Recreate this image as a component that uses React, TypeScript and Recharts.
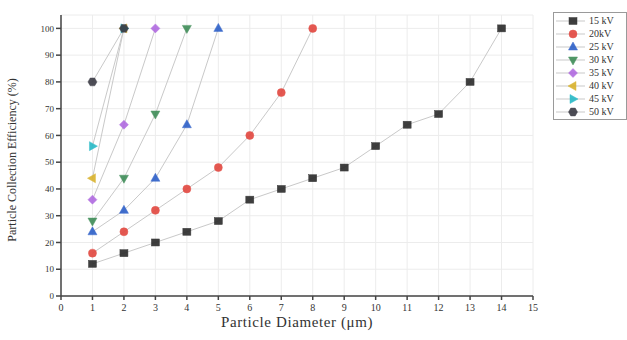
import { LineChart, Line, XAxis, YAxis, CartesianGrid, Label } from 'recharts';

const diameters = [1, 2, 3, 4, 5, 6, 7, 8, 9, 10, 11, 12, 13, 14];
const xTicks = [0, 1, 2, 3, 4, 5, 6, 7, 8, 9, 10, 11, 12, 13, 14, 15];
const yTicks = [0, 10, 20, 30, 40, 50, 60, 70, 80, 90, 100];

const eff15 = [12, 16, 20, 24, 28, 36, 40, 44, 48, 56, 64, 68, 80, 100];
const eff20 = [16, 24, 32, 40, 48, 60, 76, 100];
const eff25 = [24, 32, 44, 64, 100];
const eff30 = [28, 44, 68, 100];
const eff35 = [36, 64, 100];
const eff40 = [44, 100];
const eff45 = [56, 100];
const eff50 = [80, 100];

const seriesNames = ['15 kV', '20kV', '25 kV', '30 kV', '35 kV', '40 kV', '45 kV', '50 kV'];
const seriesValues = [eff15, eff20, eff25, eff30, eff35, eff40, eff45, eff50];
const seriesColors = ['#2a2a2a', '#e2473f', '#2c5fc8', '#3e8c57', '#b06ae0', '#d9b22c', '#26b9c6', '#3a3a44'];
const seriesShapes = ['square', 'circle', 'up', 'down', 'diamond', 'left', 'right', 'hexagon'];

const FONT = '"Liberation Serif", "Times New Roman", serif';
const LINE_COLOR = '#c9c9c9';

const series = seriesNames.map((name, i) => ({
  name,
  color: seriesColors[i],
  shape: seriesShapes[i],
  data: seriesValues[i].map((v, j) => ({ x: diameters[j], y: v })),
}));

function Marker({ cx, cy, shape, color }: { cx: number; cy: number; shape: string; color: string }) {
  const r = 4;
  let el;
  if (shape === 'square') {
    el = <rect x={cx - r} y={cy - r + 0.5} width={2 * r} height={2 * r - 1} />;
  } else if (shape === 'circle') {
    el = <circle cx={cx} cy={cy} r={r} />;
  } else if (shape === 'up') {
    el = <polygon points={`${cx},${cy - r - 1} ${cx + r + 0.5},${cy + r - 1} ${cx - r - 0.5},${cy + r - 1}`} />;
  } else if (shape === 'down') {
    el = <polygon points={`${cx},${cy + r + 1} ${cx + r + 0.5},${cy - r + 1} ${cx - r - 0.5},${cy - r + 1}`} />;
  } else if (shape === 'diamond') {
    el = <polygon points={`${cx},${cy - r - 0.5} ${cx + r + 0.5},${cy} ${cx},${cy + r + 0.5} ${cx - r - 0.5},${cy}`} />;
  } else if (shape === 'left') {
    el = <polygon points={`${cx - r - 1},${cy} ${cx + r - 1},${cy - r - 0.5} ${cx + r - 1},${cy + r + 0.5}`} />;
  } else if (shape === 'right') {
    el = <polygon points={`${cx + r + 1},${cy} ${cx - r + 1},${cy - r - 0.5} ${cx - r + 1},${cy + r + 0.5}`} />;
  } else {
    const pts = [0, 1, 2, 3, 4, 5]
      .map((k) => {
        const a = (Math.PI / 3) * k;
        return `${cx + (r + 0.5) * Math.cos(a)},${cy + (r + 0.5) * Math.sin(a)}`;
      })
      .join(' ');
    el = <polygon points={pts} />;
  }
  return (
    <g fill={color} stroke={color} strokeWidth={0.5} opacity={0.9}>
      {el}
    </g>
  );
}

function LegendBox() {
  return (
    <div
      style={{
        position: 'absolute',
        left: 553,
        top: 12,
        border: '1px solid #9a9a9a',
        padding: '1px 3px 1px 1px',
        background: '#fff',
        fontFamily: FONT,
        fontSize: 10,
        color: '#333',
        width: 68,
      }}
    >
      {series.map((s) => (
        <div key={s.name} style={{ display: 'flex', alignItems: 'center', height: 13 }}>
          <svg width={30} height={12}>
            <line x1={1} y1={6} x2={30} y2={6} stroke={LINE_COLOR} strokeWidth={1} />
            <Marker cx={18} cy={6} shape={s.shape} color={s.color} />
          </svg>
          <span style={{ marginLeft: 4 }}>{s.name}</span>
        </div>
      ))}
    </div>
  );
}

export default function App() {
  return (
    <div style={{ position: 'absolute', left: 0, top: 0, width: 627, height: 340, background: '#fff' }}>
      <LineChart width={627} height={340} margin={{ top: 15, right: 94, bottom: 0, left: 0 }}>
        <CartesianGrid stroke="#ececec" strokeWidth={1} />
        <XAxis
          type="number"
          dataKey="x"
          domain={[0, 15]}
          ticks={xTicks}
          interval={0}
          height={44}
          allowDuplicatedCategory={false}
          stroke="#444"
          strokeWidth={1.5}
          tickSize={4}
          tickMargin={4}
          tick={{ fontFamily: FONT, fontSize: 10, fill: '#333' }}
        >
          <Label
            content={() => (
              <text
                x={297}
                y={327}
                textAnchor="middle"
                fontFamily={FONT}
                fontSize={15}
                letterSpacing={0.6}
                fill="#333"
              >
                Particle Diameter (μm)
              </text>
            )}
          />
        </XAxis>
        <YAxis
          type="number"
          domain={[0, 105]}
          ticks={yTicks}
          interval={0}
          width={61}
          stroke="#444"
          strokeWidth={1.5}
          tickSize={5}
          tick={{ fontFamily: FONT, fontSize: 9, fill: '#333' }}
        >
          <Label
            content={() => (
              <text
                x={16}
                y={160}
                transform="rotate(-90 16 160)"
                textAnchor="middle"
                fontFamily={FONT}
                fontSize={12}
                fill="#333"
              >
                Particle Collection Efficiency (%)
              </text>
            )}
          />
        </YAxis>
        {series.map((s) => (
          <Line
            key={s.name}
            data={s.data}
            dataKey="y"
            name={s.name}
            type="linear"
            stroke={LINE_COLOR}
            strokeWidth={1}
            isAnimationActive={false}
            dot={(p: any) => (
              <Marker key={`${s.name}-${p.index}`} cx={p.cx} cy={p.cy} shape={s.shape} color={s.color} />
            )}
            activeDot={false}
          />
        ))}
      </LineChart>
      <LegendBox />
    </div>
  );
}
